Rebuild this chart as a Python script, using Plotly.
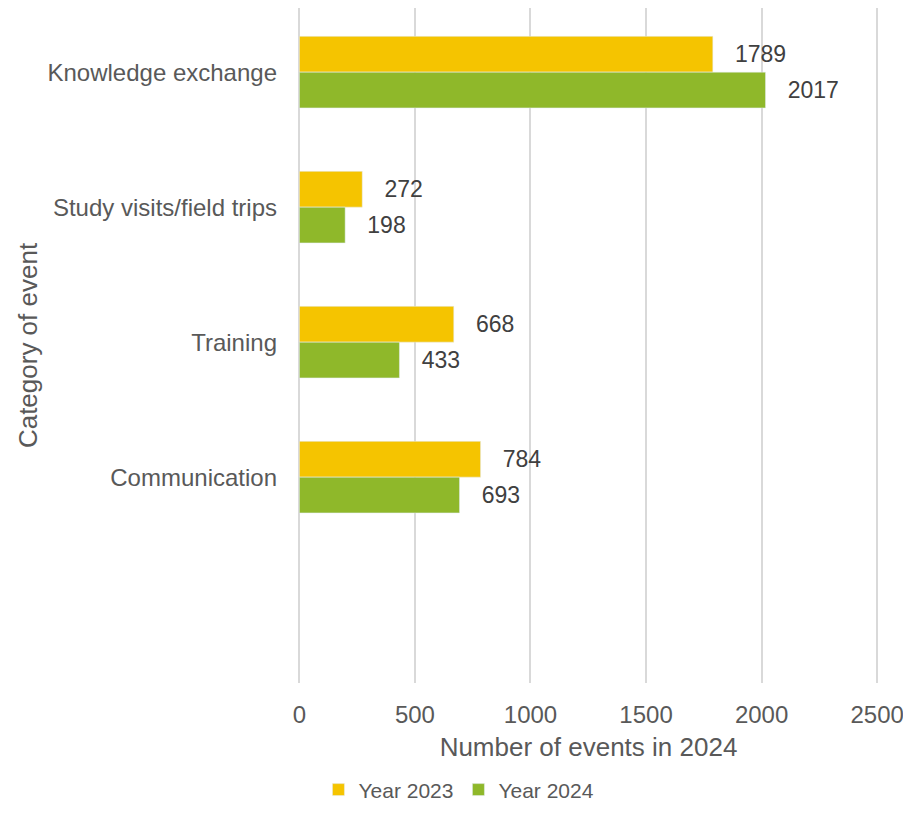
import plotly.graph_objs as go

categories = ["Knowledge exchange", "Study visits/field trips", "Training", "Communication"]
year_2023 = [1789, 272, 668, 784]
year_2024 = [2017, 198, 433, 693]

fig = go.Figure()
fig.add_trace(go.Bar(y=categories, x=year_2023, name="Year 2023", orientation="h",
                     marker_color="#F5C400", text=year_2023, texttemplate="   %{x}",
                     textposition="outside", cliponaxis=False,
                     textfont=dict(size=23, color="#404040")))
fig.add_trace(go.Bar(y=categories, x=year_2024, name="Year 2024", orientation="h",
                     marker_color="#8FB82A", text=year_2024, texttemplate="   %{x}",
                     textposition="outside", cliponaxis=False,
                     textfont=dict(size=23, color="#404040")))

fig.update_layout(
    width=911, height=829,
    barmode="group", bargap=0.47, bargroupgap=0,
    font=dict(family="Liberation Sans, Arial, sans-serif", size=24, color="#595959"),
    plot_bgcolor="white", paper_bgcolor="white",
    margin=dict(l=290, r=40, t=0, b=154),
    xaxis=dict(range=[-6, 2508], tickvals=[0, 500, 1000, 1500, 2000, 2500],
               showgrid=True, gridcolor="#D9D9D9", gridwidth=1.5,
               zeroline=True, zerolinecolor="#D9D9D9", zerolinewidth=1.5,
               showline=False, ticks="", ticklabelstandoff=15,
               title=dict(text="Number of events in 2024", font=dict(size=26), standoff=10)),
    yaxis=dict(categoryorder="array", categoryarray=categories, range=[4.525, -0.475],
               showgrid=False, zeroline=False, showline=False, ticks="", ticklabelstandoff=20,
               title=dict(text="Category of event", font=dict(size=26), standoff=2)),
    legend=dict(orientation="h", xref="container", x=0.495, xanchor="center",
                yref="container", y=0.032, yanchor="bottom",
                font=dict(size=21), itemwidth=30, traceorder="normal"),
)

fig.write_html("out.html")
